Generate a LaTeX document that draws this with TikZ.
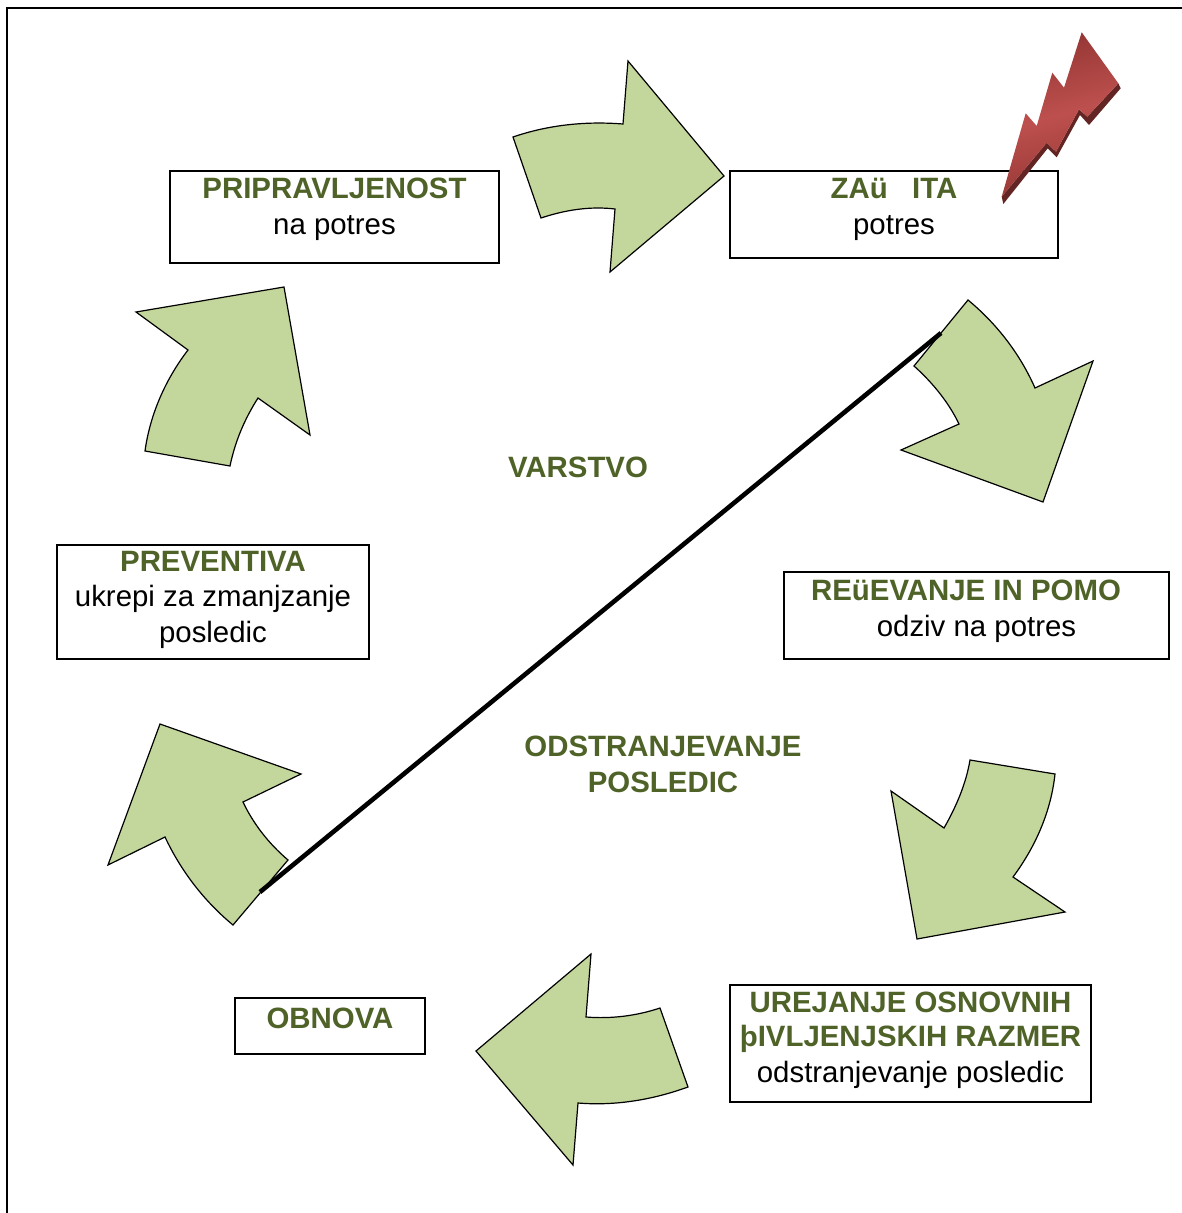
\documentclass[tikz,border=0pt]{standalone}
\usepackage{fontspec}
\setmainfont{Liberation Sans}
\usepackage{xcolor}
\usetikzlibrary{positioning}
\definecolor{headgreen}{HTML}{4F6228}
\definecolor{arrowgreen}{HTML}{C3D69B}
\definecolor{boltdark}{HTML}{632523}
\definecolor{boltedge}{HTML}{943634}
\definecolor{boltmid}{HTML}{BD504E}
\tikzset{
  cycleblock/.style = {draw=black, line width=1.2pt, fill=arrowgreen, line join=miter},
  stagebox/.style = {draw=black, line width=1.7pt, fill=white, inner sep=0pt},
  stagetext/.style = {align=center, inner sep=0pt, font=\fontsize{29.4}{36}\selectfont},
  riskline/.style = {black, line width=4.6pt},
}
\newcommand{\stagehead}[1]{{\bfseries\color{headgreen}#1}}
\begin{document}
\begin{tikzpicture}[auto,x=1pt,y=-1pt]
      \useasboundingbox (0,0) rectangle (1182,1213);
      \draw[line width=1.7pt] (7,1213) -- (7,8) -- (1182,8);

      % stage boxes
      \node [stagebox, minimum width=329pt, minimum height=92pt] (pripravljenost) at (334.5,217) {};
      \node [stagebox, minimum width=328pt, minimum height=87pt] (zascita) at (894,214.5) {};
      \node [stagebox, minimum width=385pt, minimum height=87pt] (resevanje) at (976.5,615.5) {};
      \node [stagebox, minimum width=361pt, minimum height=117pt] (urejanje) at (910.5,1043.5) {};
      \node [stagebox, minimum width=190pt, minimum height=56pt] (obnova) at (330,1026) {};
      \node [stagebox, minimum width=312pt, minimum height=114pt] (preventiva) at (213,602) {};

      \node [stagetext, below=8pt of pripravljenost.north] (pripravljenosttext) {\stagehead{PRIPRAVLJENOST}\\na potres};
      \node [stagetext, below=8pt of zascita.north] (zascitatext) {\stagehead{ZAü\ \ \ ITA}\\potres};
      \node [stagetext, below=9pt of resevanje.north] (resevanjetext) {\stagehead{REüEVANJE IN POMO}\hspace*{21pt}\\odziv na potres};
      \node [stagetext, below=8pt of urejanje.north] (urejanjetext) {\stagehead{UREJANJE OSNOVNIH}\\[-2pt]\stagehead{þIVLJENJSKIH RAZMER}\\odstranjevanje posledic};
      \node [stagetext, below=11pt of obnova.north] (obnovatext) {\stagehead{OBNOVA}};
      \node [stagetext, below=7pt of preventiva.north] (preventivatext) {\stagehead{PREVENTIVA}\\[-1pt]ukrepi za zmanjzanje\\posledic};
      \node [stagetext] (varstvo) at (578,467) {\stagehead{VARSTVO}};
      \node [stagetext] (odstranjevanje) at (663,764) {\stagehead{ODSTRANJEVANJE}\\\stagehead{POSLEDIC}};

      % block arrows
      \draw[cycleblock] (513,137) .. controls (548,125) and (585,121) .. (623,124) -- (628,61) -- (724,176)
        -- (610,272) -- (615,209) .. controls (590,206) and (565,210) .. (541,218) -- cycle;
      \draw[cycleblock] (968,300) .. controls (997,324) and (1020,354) .. (1035,388) -- (1093,361) -- (1043,502)
        -- (901,450) -- (959,424) .. controls (949,403) and (933,383) .. (914,366) -- cycle;
      \draw[cycleblock] (1055,774) .. controls (1051,811) and (1036,846) .. (1013,877) -- (1065,912) -- (917,939)
        -- (891,791) -- (944,828) .. controls (956,807) and (966,784) .. (970,760) -- cycle;
      \draw[cycleblock] (688,1087) .. controls (652,1100) and (615,1106) .. (578,1103) -- (573,1165) -- (476,1051)
        -- (591,954) -- (586,1017) .. controls (611,1019) and (636,1016) .. (660,1008) -- cycle;
      \draw[cycleblock] (233,925) .. controls (204,901) and (181,871) .. (165,837) -- (108,865) -- (160,724)
        -- (301,774) -- (243,802) .. controls (253,823) and (268,843) .. (288,860) -- cycle;
      \draw[cycleblock] (145,451) .. controls (150,415) and (165,380) .. (188,350) -- (136,312) -- (284,287)
        -- (310,435) -- (258,398) .. controls (244,420) and (235,442) .. (230,466) -- cycle;

      % diagonal
      \coordinate (risktop) at (941,333);
      \coordinate (riskbottom) at (260,892);
      \path (risktop) edge[riskline] (riskbottom);

      % lightning
      \fill[boltdark] (1001.7,196.7) -- (1003.3,204) -- (1047.7,148.3) -- (1056.7,157.3)
        -- (1080,115) -- (1089,125) -- (1120.7,88.3) -- (1118.3,83.3) -- (1087.3,116.7) -- (1079,109.3)
        -- (1056,151.7) -- (1046.7,142.7) -- cycle;
      \shade[left color=boltedge, right color=boltedge, middle color=boltmid, shading angle=15]
        (1001.7,196.7) -- (1025.7,113.3) -- (1036.7,126) -- (1052.3,72.7) -- (1064,87.7) -- (1081.7,32.3)
        -- (1118.3,83.3) -- (1087.3,116.7) -- (1079,109.3) -- (1056,151.7) -- (1046.7,142.7) -- cycle;
\end{tikzpicture}
\end{document}
